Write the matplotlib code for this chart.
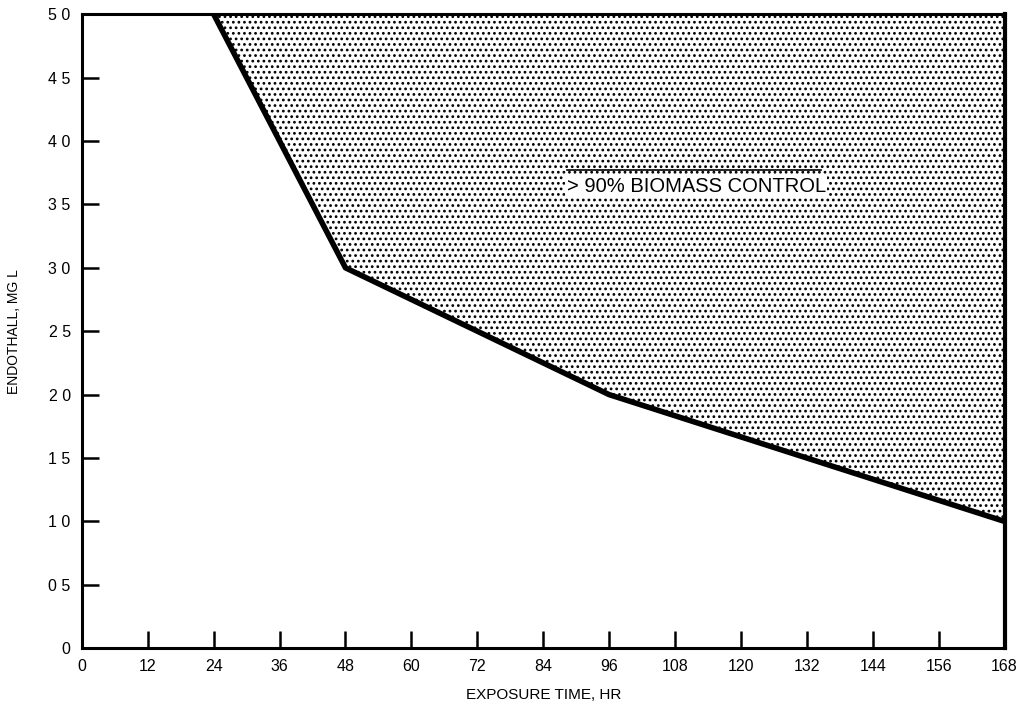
#!/usr/bin/env python

import matplotlib
matplotlib.use("Agg")
import matplotlib.pyplot as plt

# boundary of the >90% biomass control zone
hours = [24, 48, 96, 168]
conc = [5.0, 3.0, 2.0, 1.0]

x_ticks = [0, 12, 24, 36, 48, 60, 72, 84, 96, 108, 120, 132, 144, 156, 168]
y_ticks = [0, 0.5, 1.0, 1.5, 2.0, 2.5, 3.0, 3.5, 4.0, 4.5, 5.0]
y_labels = ["0", "0 5", "1 0", "1 5", "2 0", "2 5", "3 0", "3 5", "4 0", "4 5", "5 0"]

plt.rcParams["font.family"] = "Liberation Sans"
plt.rcParams["hatch.linewidth"] = 1.2

fig = plt.figure(figsize=(10.23, 7.1), dpi=100)
ax = fig.add_axes([0.080, 0.087, 0.902, 0.893])

ax.fill_between(hours, conc, [5.0] * len(hours), facecolor="white",
                edgecolor="black", hatch="...", linewidth=0)
ax.plot(hours, conc, color="black", linewidth=4, solid_capstyle="butt")

ax.text(88.3, 3.64, "> 90% BIOMASS CONTROL", fontsize=14.5, ha="left", va="center",
        bbox=dict(facecolor="white", edgecolor="none", pad=1))
ax.plot([88.3, 134.5], [3.77, 3.77], color="black", linewidth=1.2)

ax.set_xlim(0, 168)
ax.set_ylim(0, 5.0)
ax.set_xticks(x_ticks)
ax.set_yticks(y_ticks)
ax.set_yticklabels(y_labels)
ax.tick_params(direction="in", length=12, width=1.8, labelsize=11.5, pad=8)
for s in ["left", "bottom", "top"]:
    ax.spines[s].set_linewidth(2.2)
ax.spines["right"].set_linewidth(3)

ax.set_xlabel("EXPOSURE TIME, HR", fontsize=11, labelpad=10)
ax.set_ylabel("ENDOTHALL, MG L", fontsize=10, labelpad=20)

fig.savefig("out.png", dpi=100)
